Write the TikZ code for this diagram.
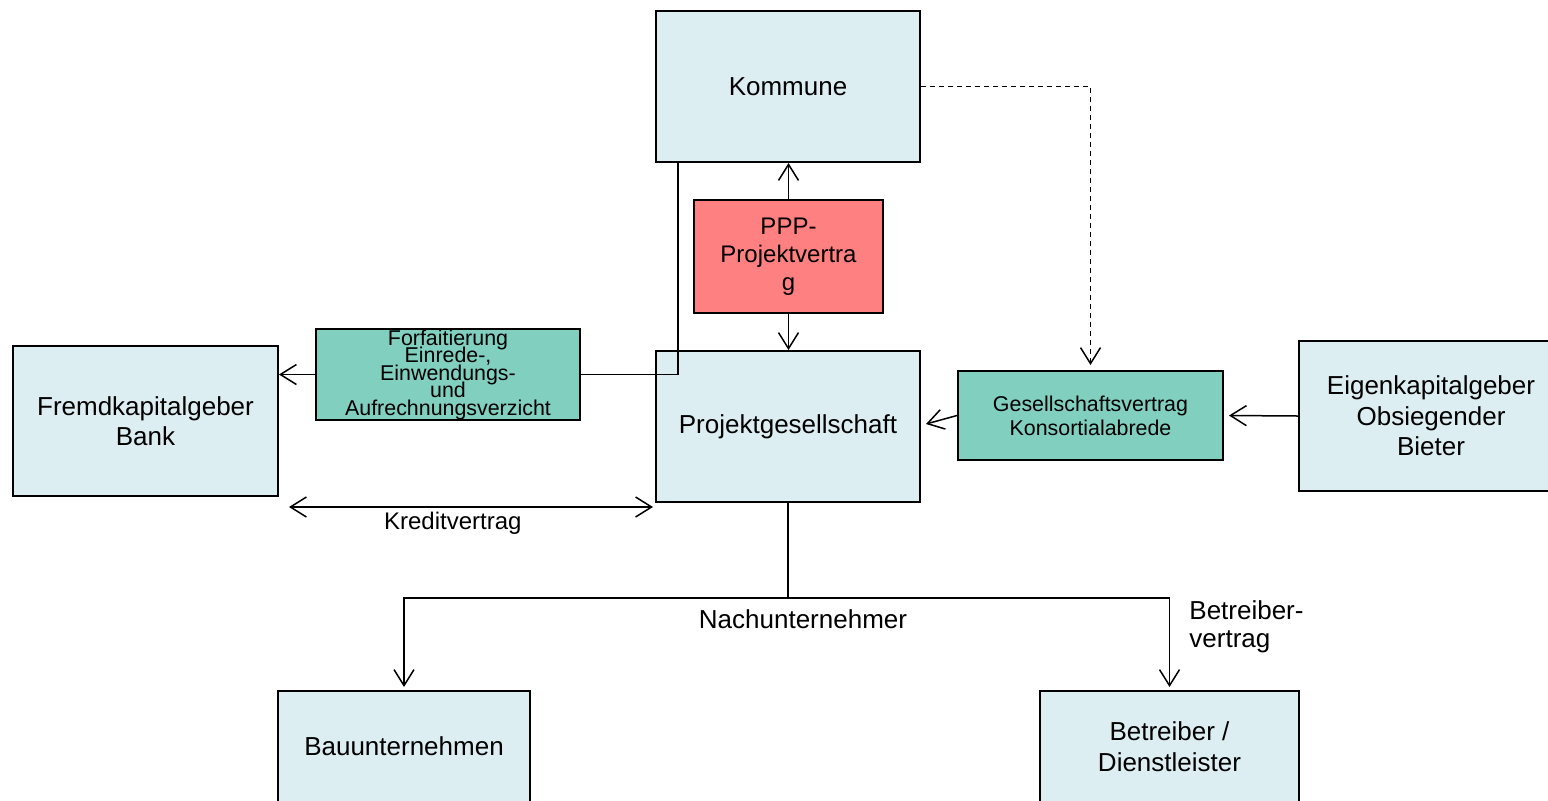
\documentclass[tikz,border=0pt]{standalone}
\usepackage{fontspec}
\setmainfont{Liberation Sans}
\usetikzlibrary{positioning,arrows.meta}
\definecolor{boxblue}{HTML}{DDEEF2}
\definecolor{vertraggruen}{HTML}{80CFBF}
\definecolor{ppprot}{HTML}{FF8080}
\newcommand{\engfont}{\fontsize{10.7}{8.75}\selectfont\lineskiplimit=-20pt\relax}
\begin{document}
\begin{tikzpicture}[x=0.5pt,y=-0.5pt,font=\fontsize{13}{15.3}\selectfont]
  \tikzstyle{b}=[draw,line width=1pt,fill=boxblue,inner sep=2pt,align=center]
  \tikzstyle{v}=[draw,line width=1pt,fill=vertraggruen,inner sep=1pt,align=center,font=\fontsize{10.7}{12}\selectfont]
  \tikzstyle{pf}=[line width=0.75pt,-{Straight Barb[length=8pt,width=10pt,line width=0.75pt]}]
  \tikzstyle{pfpf}=[line width=0.75pt,{Straight Barb[length=8pt,width=10pt,line width=0.75pt]}-{Straight Barb[length=8pt,width=10pt,line width=0.75pt]}]
  \tikzstyle{ln}=[line width=0.75pt]
  \useasboundingbox (0,0) rectangle (1548,800);
  \clip (0,0) rectangle (1548,800);
  % Kaesten
  \node[b,minimum width=132pt,minimum height=75.5pt] (kommune) at (788,86.5) {Kommune};
  \node[b,fill=ppprot,minimum width=94.5pt,minimum height=56.5pt,font=\fontsize{12}{14}\selectfont] (ppp) at (788.5,256.5) {PPP-\\Projektvertra\\g};
  \node[b,minimum width=132pt,minimum height=75.5pt] (pg) at (788,426.5) {Projektgesellschaft};
  \node[v,minimum width=132pt,minimum height=45.5pt,inner sep=0pt,font=\engfont] (forf) at (448,374.5) {Forfaitierung\\Einrede-,\\Einwendungs-\\und\\Aufrechnungsverzicht};
  \node[b,minimum width=132.5pt,minimum height=75pt] (fremd) at (145.5,421) {Fremdkapitalgeber\\Bank};
  \node[v,minimum width=132.5pt,minimum height=44.5pt] (gesell) at (1090.5,415.5) {Gesellschaftsvertrag\\Konsortialabrede};
  \node[b,minimum width=132pt,minimum height=75pt] (eigen) at (1431,416) {Eigenkapitalgeber\\Obsiegender\\Bieter};
  \node[b,minimum width=126pt,minimum height=55.5pt] (bau) at (404,746.5) {Bauunternehmen};
  \node[b,minimum width=129.5pt,minimum height=55.5pt] (betr) at (1169.5,746.5) {Betreiber /\\Dienstleister};
  % Verbindungen
  \draw[pf] (ppp.north) -- (ppp.north |- kommune.south);
  \draw[pf] (ppp.south) -- (ppp.south |- pg.north);
  \draw[ln] ([xshift=11.5pt]kommune.south west) |- (forf.east);
  \draw[pf] (forf.west) -- (forf.west -| fremd.east);
  \draw[pfpf] ([xshift=5pt,yshift=-5pt]fremd.south east) -- ([xshift=-1pt,yshift=-5pt]fremd.south east -| pg.west)
    node[pos=0.45,below=-1pt,font=\fontsize{12}{14}\selectfont] (kredit) {Kreditvertrag};
  \draw[pf] (eigen.west) -- ([xshift=2.5pt]gesell.east);
  \draw[pf] (gesell.west) -- ([xshift=2.5pt,yshift=1.25pt]pg.east);
  \draw[pf,dash pattern=on 2.5pt off 2pt] (kommune.east) -| ([yshift=2.5pt]gesell.north);
  \draw[ln] (pg.south) -- ++(0,95) coordinate (nu);
  \draw[pf] (nu) -| ([yshift=1.5pt]bau.north);
  \draw[pf] (nu) -| ([yshift=1.5pt]betr.north);
  \node (nulabel) at (803,619) {Nachunternehmer};
  \node[align=left,anchor=west,inner sep=0pt,font=\fontsize{13}{14}\selectfont] (betrlabel) at (1189,627) {Betreiber-\\vertrag};
\end{tikzpicture}
\end{document}
